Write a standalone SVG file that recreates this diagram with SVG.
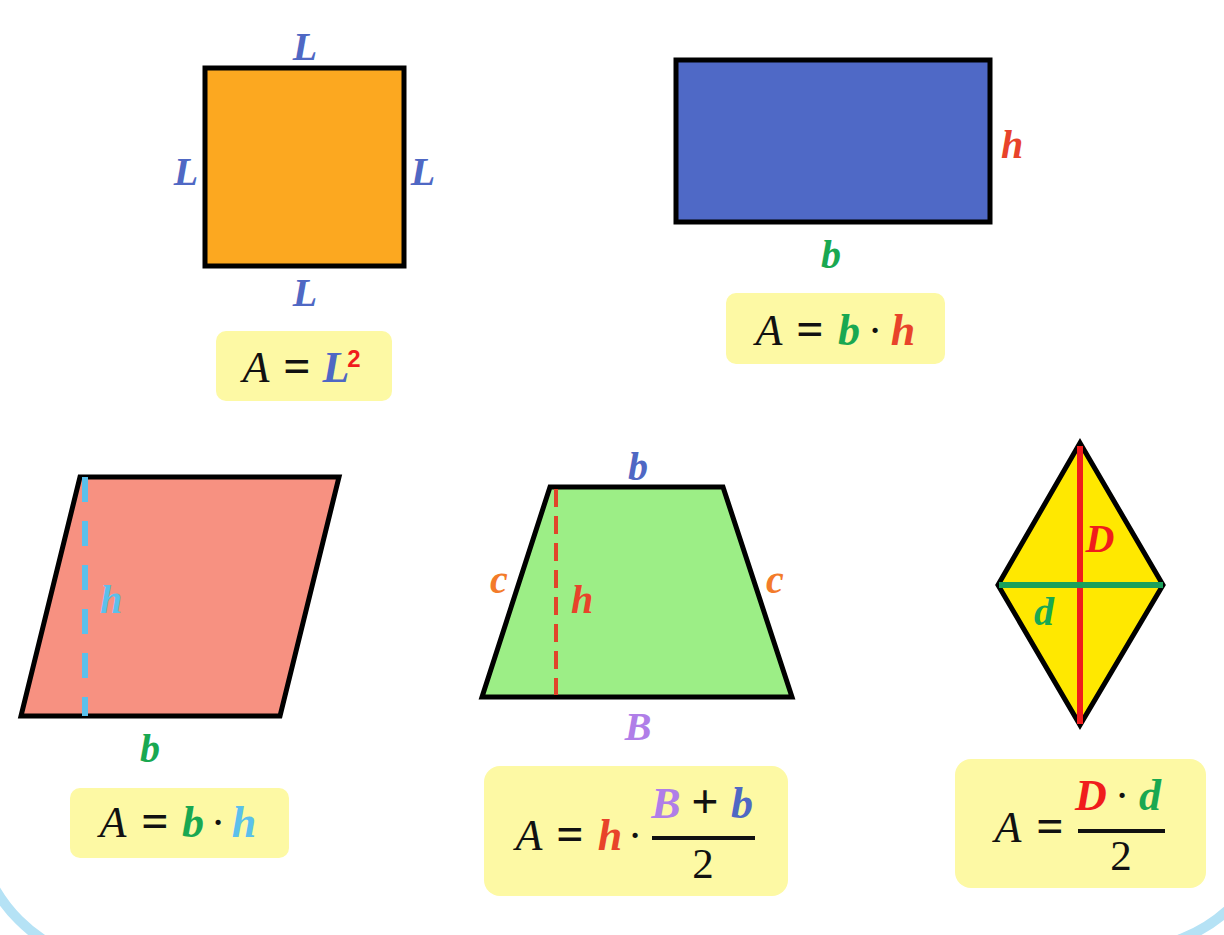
<svg xmlns="http://www.w3.org/2000/svg" width="1224" height="935" viewBox="0 0 1224 935">
<style>
.lbl{font-family:"Liberation Serif",serif;font-style:italic;font-weight:bold;font-size:40px;text-anchor:middle}
.fv{font-family:"Liberation Serif",serif;font-style:italic;font-size:44px;text-anchor:middle;fill:#111}
.fb{font-family:"Liberation Serif",serif;font-style:italic;font-weight:bold;font-size:44px;text-anchor:middle}
.op{font-family:"Liberation Serif",serif;font-weight:bold;font-size:48px;text-anchor:middle;fill:#111}
.dot{font-family:"Liberation Serif",serif;font-size:44px;text-anchor:middle;fill:#111}
.num{font-family:"Liberation Serif",serif;font-size:43px;text-anchor:middle;fill:#111}
.box{fill:#fdf9a4}
.shape{stroke:#000;stroke-width:5;stroke-linejoin:miter}
.bar{stroke:#111;stroke-width:4}
.blue{fill:#4f68c4}.red{fill:#e8432a}.green{fill:#19a851}.lblue{fill:#5bc0eb}.orange{fill:#f37b2a}.purple{fill:#b07ee8}.bred{fill:#f01c1c}
</style>
<rect width="1224" height="935" fill="#fff"/>
<g id="frame" fill="none" stroke="#b5e2f5" stroke-width="10">
<path d="M -25 814 A 150 150 0 0 0 125 964"/>
<path d="M 1127 949 A 150 150 0 0 0 1277 799"/>
</g>
<g id="square">
<rect class="shape" x="205" y="68" width="199" height="198" fill="#fca820"/>
<text class="lbl blue" x="305" y="60">L</text>
<text class="lbl blue" x="186" y="185">L</text>
<text class="lbl blue" x="423" y="185">L</text>
<text class="lbl blue" x="305" y="306">L</text>
</g>
<g id="formula-square">
<rect class="box" x="216" y="331" width="176" height="70" rx="10"/>
<text class="fv" x="256" y="382">A</text>
<text class="op" x="297" y="382">=</text>
<text class="fb blue" x="336" y="382">L</text>
<text x="354" y="367" font-family="Liberation Sans,sans-serif" font-weight="bold" font-size="24" text-anchor="middle" fill="#f01c1c">2</text>
</g>
<g id="rectangle">
<rect class="shape" x="676" y="60" width="314" height="162" fill="#4f69c6"/>
<text class="lbl red" x="1012" y="158">h</text>
<text class="lbl green" x="831" y="268">b</text>
</g>
<g id="formula-rectangle">
<rect class="box" x="726" y="293" width="219" height="71" rx="10"/>
<text class="fv" x="769" y="345">A</text>
<text class="op" x="810" y="345">=</text>
<text class="fb green" x="849" y="345">b</text>
<text class="dot" x="875" y="345">·</text>
<text class="fb red" x="903" y="345">h</text>
</g>
<g id="parallelogram">
<polygon class="shape" points="80,477 339,477 280,716 21,716" fill="#f79181"/>
<line x1="85" y1="477" x2="85" y2="716" stroke="#5bc0eb" stroke-width="6" stroke-dasharray="25,19"/>
<text class="lbl lblue" x="111" y="613">h</text>
<text class="lbl green" x="150" y="762">b</text>
</g>
<g id="formula-parallelogram">
<rect class="box" x="70" y="788" width="219" height="70" rx="10"/>
<text class="fv" x="113" y="837">A</text>
<text class="op" x="155" y="837">=</text>
<text class="fb green" x="193" y="837">b</text>
<text class="dot" x="218" y="837">·</text>
<text class="fb lblue" x="244" y="837">h</text>
</g>
<g id="trapezoid">
<polygon class="shape" points="550,487 723,487 792,697 482,697" fill="#9cee86"/>
<line x1="556" y1="489" x2="556" y2="695" stroke="#e0452a" stroke-width="4" stroke-dasharray="18,9"/>
<text class="lbl blue" x="638" y="480">b</text>
<text class="lbl orange" x="499" y="593">c</text>
<text class="lbl orange" x="775" y="593">c</text>
<text class="lbl red" x="582" y="613">h</text>
<text class="lbl purple" x="638" y="740">B</text>
</g>
<g id="formula-trapezoid">
<rect class="box" x="484" y="766" width="304" height="130" rx="16"/>
<text class="fv" x="529" y="850">A</text>
<text class="op" x="570" y="850">=</text>
<text class="fb red" x="610" y="850">h</text>
<text class="dot" x="635" y="850">·</text>
<text class="fb purple" x="666" y="818">B</text>
<text class="op" x="705" y="818">+</text>
<text class="fb blue" x="742" y="818">b</text>
<line class="bar" x1="652" y1="838" x2="755" y2="838"/>
<text class="num" x="703" y="878">2</text>
</g>
<g id="rhombus">
<polygon class="shape" points="1080,443 1163,585 1080,725 998,585" fill="#ffe800"/>
<line x1="1080" y1="446" x2="1080" y2="724" stroke="#f01c1c" stroke-width="6"/>
<line x1="999" y1="585" x2="1163" y2="585" stroke="#1aa05a" stroke-width="6"/>
<text class="lbl bred" x="1100" y="552">D</text>
<text class="lbl green" x="1044" y="625">d</text>
</g>
<g id="formula-rhombus">
<rect class="box" x="955" y="759" width="251" height="129" rx="16"/>
<text class="fv" x="1008" y="842">A</text>
<text class="op" x="1050" y="842">=</text>
<text class="fb bred" x="1091" y="810">D</text>
<text class="dot" x="1122" y="810">·</text>
<text class="fb green" x="1150" y="810">d</text>
<line class="bar" x1="1078" y1="831" x2="1165" y2="831"/>
<text class="num" x="1121" y="870">2</text>
</g>
<g id="connectors"></g>
</svg>
